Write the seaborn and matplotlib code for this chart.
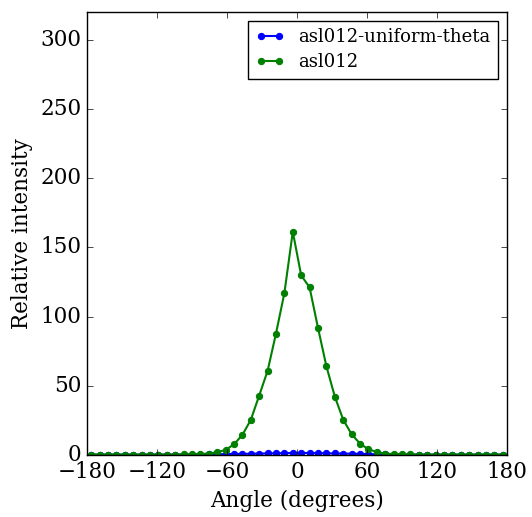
import matplotlib
matplotlib.use("Agg")
import matplotlib.pyplot as plt
import seaborn as sns
import pandas as pd

# bin centres (degrees)
angles = [-176.4, -169.2, -162.0, -154.8, -147.6, -140.4, -133.2, -126.0, -118.8, -111.6,
          -104.4, -97.2, -90.0, -82.8, -75.6, -68.4, -61.2, -54.0, -46.8, -39.6,
          -32.4, -25.2, -18.0, -10.8, -3.6, 3.6, 10.8, 18.0, 25.2, 32.4,
          39.6, 46.8, 54.0, 61.2, 68.4, 75.6, 82.8, 90.0, 97.2, 104.4,
          111.6, 118.8, 126.0, 133.2, 140.4, 147.6, 154.8, 162.0, 169.2, 176.4]

uniform_theta = [0.2, 0.2, 0.2, 0.2, 0.2, 0.2, 0.2, 0.2, 0.2, 0.2,
                 0.2, 0.3, 0.3, 0.3, 0.4, 0.5, 0.6, 0.7, 0.8, 0.9,
                 1.0, 1.1, 1.2, 1.3, 1.5, 1.5, 1.4, 1.3, 1.2, 1.1,
                 1.0, 0.9, 0.8, 0.6, 0.5, 0.4, 0.3, 0.3, 0.3, 0.2,
                 0.2, 0.2, 0.2, 0.2, 0.2, 0.2, 0.2, 0.2, 0.2, 0.2]

asl012 = [0.3, 0.3, 0.3, 0.3, 0.3, 0.3, 0.3, 0.3, 0.3, 0.3,
          0.3, 0.4, 0.5, 0.7, 1.0, 2.0, 3.6, 7.7, 14.5, 25.3,
          42.9, 60.7, 87.7, 116.9, 161.2, 129.7, 121.0, 91.8, 64.1, 42.2,
          25.5, 15.0, 8.2, 4.1, 2.2, 1.0, 0.7, 0.5, 0.4, 0.3,
          0.3, 0.3, 0.3, 0.3, 0.3, 0.3, 0.3, 0.3, 0.3, 0.3]

plt.style.use("classic")
plt.rcParams["font.family"] = ["DejaVu Serif"]
plt.rcParams["font.size"] = 15.5
plt.rcParams["xtick.labelsize"] = 15.5
plt.rcParams["ytick.labelsize"] = 15.5
plt.rcParams["axes.labelsize"] = 15.5

df = pd.DataFrame({"angle": angles, "uniform": uniform_theta, "asl012": asl012})

fig = plt.figure(figsize=(5.32, 5.17), dpi=100)
ax = fig.add_axes([0.1635, 0.12, 0.7895, 0.857])

sns.lineplot(data=df, x="angle", y="uniform", ax=ax, color="b", marker="o",
             markersize=4.5, markeredgecolor="b", linewidth=1.5,
             label="asl012-uniform-theta")
sns.lineplot(data=df, x="angle", y="asl012", ax=ax, color="g", marker="o",
             markersize=4.5, markeredgecolor="g", linewidth=1.5,
             label="asl012")

ax.set_xlim(-180, 180)
ax.set_ylim(0, 320)
ax.set_xticks([-180, -120, -60, 0, 60, 120, 180])
ax.set_yticks([0, 50, 100, 150, 200, 250, 300])
ax.set_xlabel("Angle (degrees)")
ax.set_ylabel("Relative intensity")
ax.legend(loc="upper right", fontsize=13, handlelength=1.6,
          borderaxespad=0.5, handletextpad=0.8, labelspacing=0.4)

fig.savefig("out.png", dpi=100)
